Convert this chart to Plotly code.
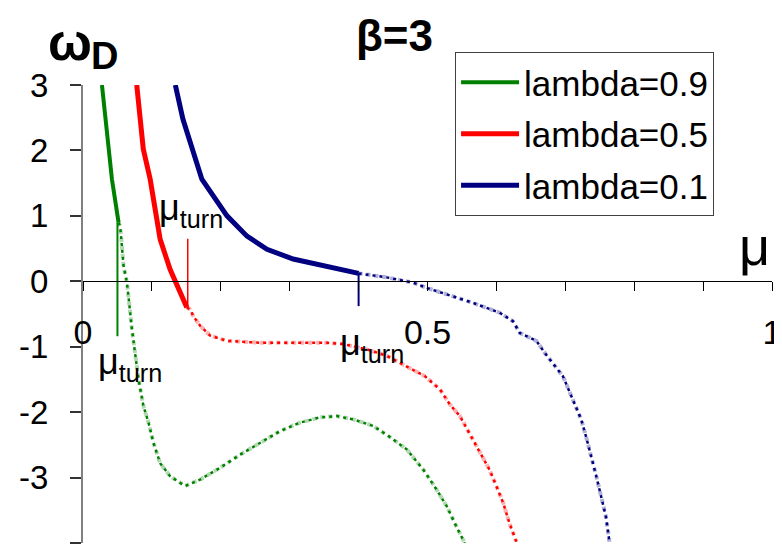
import plotly.graph_objects as go

# ---------------- data ----------------
legend_names = ["lambda=0.9", "lambda=0.5", "lambda=0.1"]

# lambda = 0.9 (green)
mu_g_solid = [0.0275, 0.035, 0.042, 0.0516]
w_g_solid = [3.0, 2.2, 1.56, 0.9]
mu_g_dot = [0.0516, 0.054, 0.0589, 0.0638, 0.071, 0.078, 0.0806, 0.0878, 0.0951, 0.1023,
            0.112, 0.1265, 0.1483, 0.170, 0.199, 0.228, 0.257, 0.286, 0.315, 0.344,
            0.368, 0.392, 0.421, 0.444, 0.470, 0.494, 0.513, 0.528, 0.542, 0.554]
w_g_dot = [0.9, 0.84, 0.23, -0.02, -0.73, -1.29, -1.5, -1.91, -2.16, -2.47,
           -2.78, -2.98, -3.13, -3.03, -2.85, -2.65, -2.47, -2.29, -2.16, -2.08,
           -2.06, -2.11, -2.21, -2.37, -2.57, -2.88, -3.18, -3.44, -3.75, -4.0]

# lambda = 0.5 (red)
mu_r_solid = [0.078, 0.0875, 0.0975, 0.112, 0.1265, 0.1507]
w_r_solid = [3.0, 2.02, 1.56, 0.64, 0.18, -0.40]
mu_r_dot = [0.1507, 0.1555, 0.160, 0.170, 0.1845, 0.2087, 0.257, 0.305, 0.354, 0.378,
            0.412, 0.441, 0.470, 0.496, 0.518, 0.5323, 0.547, 0.561, 0.576, 0.590,
            0.600, 0.610, 0.619, 0.629]
w_r_dot = [-0.40, -0.43, -0.53, -0.68, -0.83, -0.91, -0.94, -0.94, -0.94, -0.96,
           -1.04, -1.14, -1.30, -1.45, -1.65, -1.88, -2.06, -2.32, -2.60, -2.88,
           -3.13, -3.39, -3.70, -3.98]

# lambda = 0.1 (blue)
mu_b_solid = [0.134, 0.145, 0.1725, 0.189, 0.209, 0.238, 0.267, 0.305, 0.354, 0.40]
w_b_solid = [3.0, 2.48, 1.56, 1.31, 1.0, 0.69, 0.49, 0.34, 0.225, 0.12]
mu_b_dot = [0.40, 0.4406, 0.479, 0.4986, 0.5279, 0.566, 0.6047, 0.624, 0.634, 0.658,
            0.672, 0.6965, 0.711, 0.723, 0.730, 0.738, 0.745, 0.752, 0.759, 0.764]
w_b_dot = [0.12, 0.06, -0.02, -0.10, -0.20, -0.33, -0.48, -0.61, -0.79, -0.91,
           -1.12, -1.45, -1.81, -2.11, -2.37, -2.68, -2.98, -3.29, -3.60, -3.98]

# mu_turn markers (vertical lines): x, y-start, y-end
turn_mu = [0.05, 0.152, 0.40]
turn_w_top = [0.9, 0.65, 0.12]
turn_w_bot = [-0.84, -0.40, -0.38]

# mu_turn label positions
turn_label_mu = [0.0687, 0.157, 0.4195]
turn_label_w = [-1.26, 1.09, -0.98]

x_tickvals = [0, 0.5, 1.0]
x_ticktext = ["0", "0.5", "1"]
x_minor_tickvals = [0.1, 0.2, 0.3, 0.4, 0.6, 0.7, 0.8, 0.9]
y_tickvals = [-4, -3, -2, -1, 0, 1, 2, 3]
y_ticktext = ["-4", "-3", "-2", "-1", "0", "1", "2", "3"]

# ---------------- styling ----------------
GREEN = "#008000"
RED = "#FF0000"
BLUE = "#000080"
FONT = "Liberation Sans, Arial, sans-serif"

fig = go.Figure()

groups = [
    (mu_g_solid, w_g_solid, mu_g_dot, w_g_dot, GREEN, 4, 2.0),
    (mu_r_solid, w_r_solid, mu_r_dot, w_r_dot, RED, 5, 1.5),
    (mu_b_solid, w_b_solid, mu_b_dot, w_b_dot, BLUE, 5, 2.0),
]

for i, (xs, ys, xd, yd, col, lw, tw) in enumerate(groups):
    # light underlay for the dotted branch
    fig.add_trace(go.Scatter(x=xd, y=yd, mode="lines", showlegend=False, hoverinfo="skip",
                             opacity=0.3, line=dict(color=col, width=4, dash="dot")))
    fig.add_trace(go.Scatter(x=xd, y=yd, mode="lines", showlegend=False, hoverinfo="skip",
                             line=dict(color=col, width=2.5, dash="3px,4px")))
    # turn marker
    fig.add_trace(go.Scatter(x=[turn_mu[i], turn_mu[i]], y=[turn_w_top[i], turn_w_bot[i]],
                             mode="lines", showlegend=False, hoverinfo="skip",
                             line=dict(color=col, width=tw)))
    # solid branch
    fig.add_trace(go.Scatter(x=xs, y=ys, mode="lines", name=legend_names[i],
                             legendgroup="g%d" % i,
                             line=dict(color=col, width=lw)))

annotations = []
for xm, ym in zip(turn_label_mu, turn_label_w):
    annotations.append(dict(x=xm, y=ym, xref="x", yref="y", text="μ<sub>turn</sub>",
                            showarrow=False, xanchor="center", yanchor="middle",
                            font=dict(family=FONT, size=36, color="black")))

annotations += [
    dict(x=0.4528, y=1.108, xref="paper", yref="paper", text="<b>β=3</b>", showarrow=False,
         xanchor="center", yanchor="middle", font=dict(family=FONT, size=44, color="black")),
    dict(x=-0.0189, y=1.094, xref="paper", yref="paper", text="<b>ω</b>", showarrow=False,
         xanchor="center", yanchor="middle", font=dict(family=FONT, size=52, color="black")),
    dict(x=0.0305, y=1.063, xref="paper", yref="paper", text="<b>D</b>", showarrow=False,
         xanchor="center", yanchor="middle", font=dict(family=FONT, size=38, color="black")),
    dict(x=0.974, y=0.649, xref="paper", yref="paper", text="μ", showarrow=False,
         xanchor="center", yanchor="middle", font=dict(family=FONT, size=54, color="black")),
]

# the page body adds an 8 px offset; size/margins compensate so the
# plot area lands at x 83..772, y 85..543 in the 782x559 window
fig.update_layout(
    width=774, height=551,
    margin=dict(l=75, r=10, t=77, b=16),
    paper_bgcolor="white", plot_bgcolor="white",
    font=dict(family=FONT, color="black"),
    showlegend=True,
    legend=dict(x=0.540, y=1.072, xanchor="left", yanchor="top",
                bgcolor="white", bordercolor="#404040", borderwidth=1,
                font=dict(family=FONT, size=35, color="black"),
                itemwidth=58, tracegroupgap=3),
    annotations=annotations,
    xaxis=dict(range=[0, 1], anchor="free", position=4 / 7, automargin=False,
               showline=True, linecolor="black", linewidth=1,
               ticks="outside", ticklen=9, tickcolor="black", tickwidth=1,
               tickmode="array", tickvals=x_tickvals, ticktext=x_ticktext,
               minor=dict(tickmode="array", tickvals=x_minor_tickvals, ticks="outside",
                          ticklen=9, tickcolor="black", tickwidth=1, showgrid=False),
               tickfont=dict(family=FONT, size=34, color="black"),
               ticklabelstandoff=12,
               showgrid=False, zeroline=False),
    yaxis=dict(range=[-4, 3], domain=[0, 1], automargin=False,
               showline=True, linecolor="#808080", linewidth=2,
               ticks="outside", ticklen=11, tickcolor="#333333", tickwidth=1.5,
               tickmode="array", tickvals=y_tickvals, ticktext=y_ticktext,
               tickfont=dict(family=FONT, size=33, color="black"),
               ticklabelstandoff=15,
               showgrid=False, zeroline=False),
)

fig.write_html("out.html")
